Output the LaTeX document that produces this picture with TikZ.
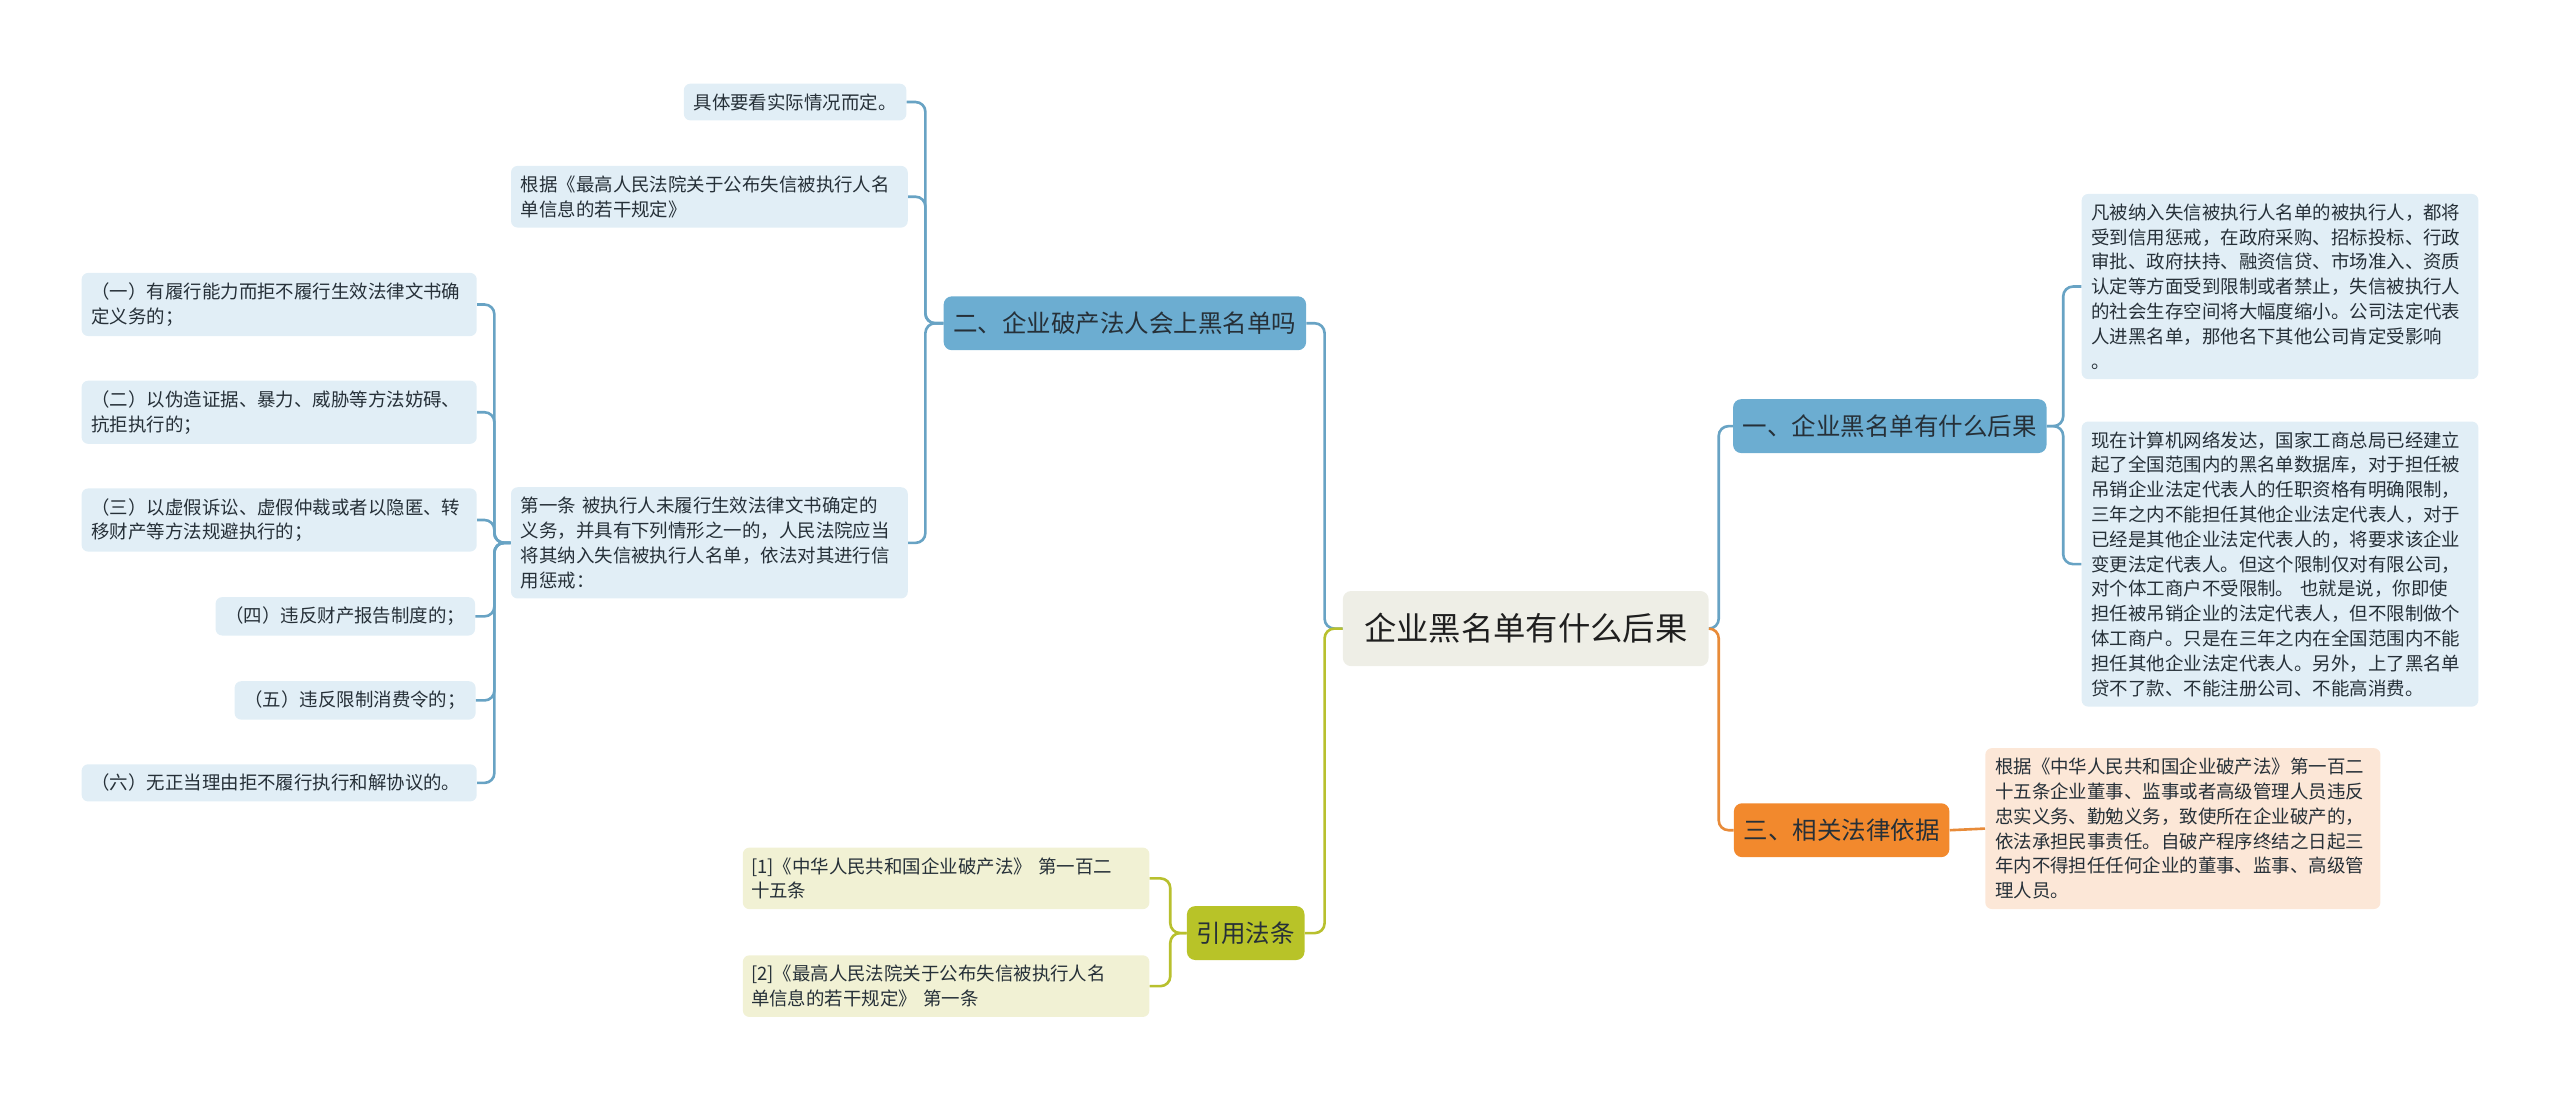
\documentclass[tikz,border=0pt]{standalone}
\usepackage{fontspec}
\setmainfont{Noto Sans CJK SC}
\definecolor{MmBlue}{RGB}{108,173,209}
\definecolor{MmBlueLine}{RGB}{104,163,196}
\definecolor{MmBlueLeaf}{RGB}{225,238,246}
\definecolor{MmOrange}{RGB}{242,137,45}
\definecolor{MmOrangeLine}{RGB}{232,139,57}
\definecolor{MmOrangeLeaf}{RGB}{252,231,215}
\definecolor{MmOlive}{RGB}{184,195,40}
\definecolor{MmOliveLine}{RGB}{184,192,46}
\definecolor{MmOliveLeaf}{RGB}{241,241,212}
\definecolor{MmRoot}{RGB}{238,238,230}
\definecolor{MmText}{RGB}{38,48,56}
\tikzset{
  mm/root/.style={
    fill=MmRoot,
    rounded corners=5pt,
    text=black!88,
    font=\fontsize{19.8}{24}\selectfont,
    inner xsep=13pt,
    minimum height=46pt
  },
  mm/branch/.style={
    rounded corners=5pt,
    text=MmText,
    font=\fontsize{15}{18}\selectfont,
    inner xsep=6pt,
    minimum height=33pt
  },
  mm/leaf/.style={
    rounded corners=4pt,
    text=MmText,
    align=left,
    font=\fontsize{11.3}{15.2}\selectfont,
    inner xsep=6pt,
    inner ysep=6pt
  },
  mm/link/.style={line width=1.6pt, rounded corners=6pt}
}

\begin{document}
\begin{tikzpicture}[x=1pt,y=-1pt]
  \useasboundingbox (0,0) rectangle (1568,675);

  \node[mm/root] (root) at (934.5,385) {企业黑名单有什么后果};

  \node[mm/branch,fill=MmBlue] (b1) at (1157.5,261) {一、企业黑名单有什么后果};
  \node[mm/branch,fill=MmBlue] (b2) at (689,198) {二、企业破产法人会上黑名单吗};
  \node[mm/branch,fill=MmOrange] (b3) at (1128,508.5) {三、相关法律依据};
  \node[mm/branch,fill=MmOlive] (b4) at (763,571.5) {引用法条};

  \node[mm/leaf,fill=MmBlueLeaf,text width=231pt] (r1) at (1396.5,175.5)
    {凡被纳入失信被执行人名单的被执行人，都将\\受到信用惩戒，在政府采购、招标投标、行政\\审批、政府扶持、融资信贷、市场准入、资质\\认定等方面受到限制或者禁止，失信被执行人\\的社会生存空间将大幅度缩小。公司法定代表\\人进黑名单，那他名下其他公司肯定受影响\\。};
  \node[mm/leaf,fill=MmBlueLeaf,text width=231pt] (r2) at (1396.5,345.5)
    {现在计算机网络发达，国家工商总局已经建立\\起了全国范围内的黑名单数据库，对于担任被\\吊销企业法定代表人的任职资格有明确限制，\\三年之内不能担任其他企业法定代表人，对于\\已经是其他企业法定代表人的，将要求该企业\\变更法定代表人。但这个限制仅对有限公司，\\对个体工商户不受限制。 也就是说，你即使\\担任被吊销企业的法定代表人，但不限制做个\\体工商户。只是在三年之内在全国范围内不能\\担任其他企业法定代表人。另外，上了黑名单\\贷不了款、不能注册公司、不能高消费。};
  \node[mm/leaf,fill=MmOrangeLeaf,text width=230pt] (o1) at (1337,507.5)
    {根据《中华人民共和国企业破产法》第一百二\\十五条企业董事、监事或者高级管理人员违反\\忠实义务、勤勉义务，致使所在企业破产的，\\依法承担民事责任。自破产程序终结之日起三\\年内不得担任任何企业的董事、监事、高级管\\理人员。};

  \node[mm/leaf,fill=MmBlueLeaf] (l1) at (487,62.5) {具体要看实际情况而定。};
  \node[mm/leaf,fill=MmBlueLeaf,text width=231pt] (l2) at (434.5,120.5)
    {根据《最高人民法院关于公布失信被执行人名\\单信息的若干规定》};
  \node[mm/leaf,fill=MmBlueLeaf,text width=231pt] (l3) at (434.5,332.5)
    {第一条 被执行人未履行生效法律文书确定的\\义务，并具有下列情形之一的，人民法院应当\\将其纳入失信被执行人名单，依法对其进行信\\用惩戒：};

  \node[mm/leaf,fill=MmBlueLeaf,text width=230pt] (s1) at (171,186.5)
    {（一）有履行能力而拒不履行生效法律文书确\\定义务的；};
  \node[mm/leaf,fill=MmBlueLeaf,text width=230pt] (s2) at (171,252.5)
    {（二）以伪造证据、暴力、威胁等方法妨碍、\\抗拒执行的；};
  \node[mm/leaf,fill=MmBlueLeaf,text width=230pt] (s3) at (171,318.5)
    {（三）以虚假诉讼、虚假仲裁或者以隐匿、转\\移财产等方法规避执行的；};
  \node[mm/leaf,fill=MmBlueLeaf] (s4) at (211.5,377.5) {（四）违反财产报告制度的；};
  \node[mm/leaf,fill=MmBlueLeaf] (s5) at (217.5,429) {（五）违反限制消费令的；};
  \node[mm/leaf,fill=MmBlueLeaf,text width=230pt] (s6) at (171,479.5)
    {（六）无正当理由拒不履行执行和解协议的。};

  \node[mm/leaf,fill=MmOliveLeaf,inner xsep=5pt,text width=239pt] (c1) at (579.5,538)
    {[1]《中华人民共和国企业破产法》 第一百二\\十五条};
  \node[mm/leaf,fill=MmOliveLeaf,inner xsep=5pt,text width=239pt] (c2) at (579.5,604)
    {[2]《最高人民法院关于公布失信被执行人名\\单信息的若干规定》 第一条};

  \draw[mm/link,draw=MmBlueLine] (root.west) -- ++(-11,0) |- (b2.east);
  \draw[mm/link,draw=MmOliveLine] (root.west) -- ++(-11,0) |- (b4.east);
  \draw[mm/link,draw=MmBlueLine] (root.east) -- ++(6,0) |- (b1.west);
  \draw[mm/link,draw=MmOrangeLine] (root.east) -- ++(6,0) |- (b3.west);

  \foreach \n in {r1,r2}
    \draw[mm/link,draw=MmBlueLine] (b1.east) -- ++(10,0) |- (\n.west);
  \draw[mm/link,draw=MmOrangeLine] (b3.east) -- (o1.west);
  \foreach \n in {l1,l2,l3}
    \draw[mm/link,draw=MmBlueLine] (b2.west) -- ++(-11,0) |- (\n.east);
  \foreach \n in {s1,s2,s3,s4,s5,s6}
    \draw[mm/link,draw=MmBlueLine] (l3.west) -- ++(-10,0) |- (\n.east);
  \foreach \n in {c1,c2}
    \draw[mm/link,draw=MmOliveLine] (b4.west) -- ++(-10,0) |- (\n.east);
\end{tikzpicture}
\end{document}
